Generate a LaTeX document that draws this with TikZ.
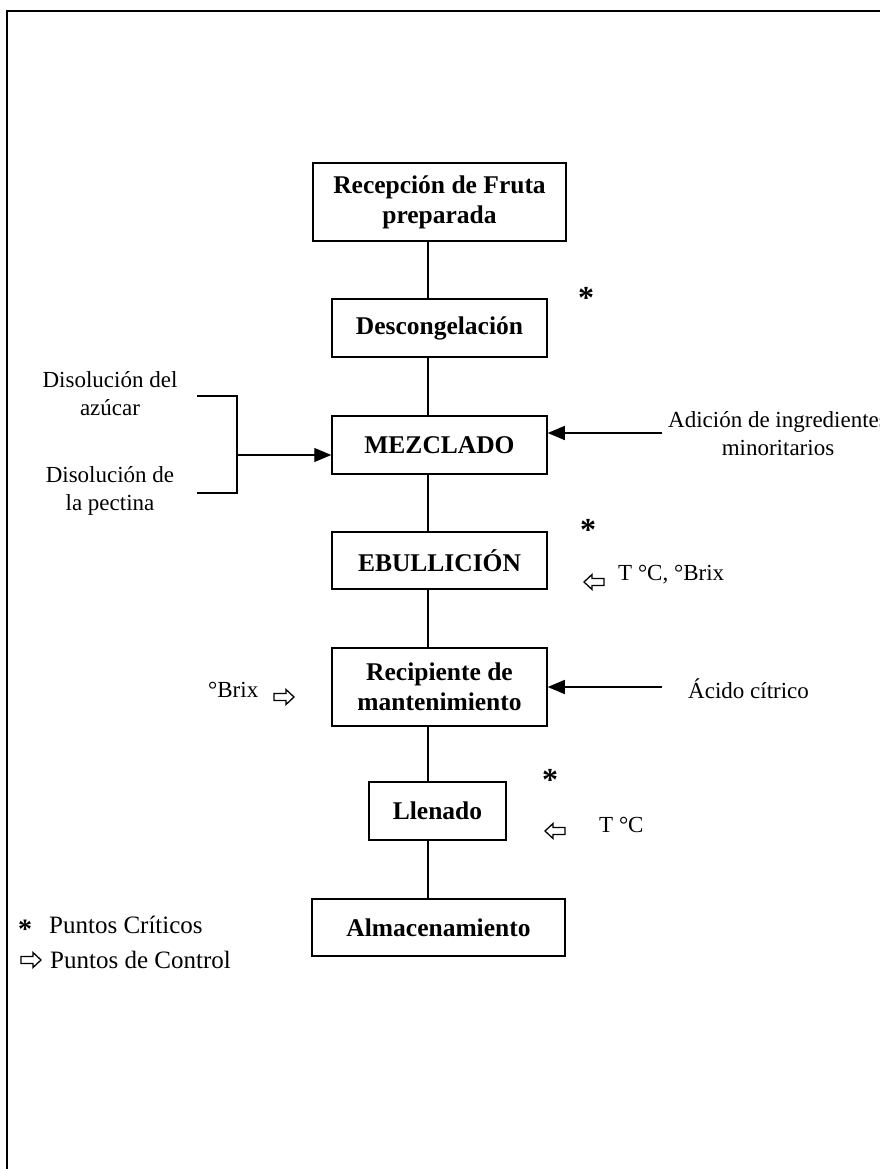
\documentclass[tikz,border=0pt]{standalone}
\usepackage{fontspec}
\setmainfont{Liberation Serif}
\usetikzlibrary{arrows.meta}
\begin{document}
\begin{tikzpicture}[x=1pt,y=-1pt,
  box/.style={draw, line width=1.5pt, font=\fontsize{25.5}{30}\selectfont\bfseries, align=center, inner sep=0pt, minimum height=58pt},
  lbl/.style={font=\fontsize{23}{28}\selectfont, align=center, inner sep=0pt},
  leg/.style={font=\fontsize{25}{30}\selectfont, inner sep=0pt, anchor=west},
  conn/.style={line width=1.3pt},
  feed/.style={line width=1.3pt, -{Triangle[length=17pt,width=14pt]}},
  star/.style={font=\fontsize{32}{32}\selectfont\bfseries, inner sep=0pt},
  ctrl/.style={line width=1.3pt, line join=miter},
  ctrlR/.pic={\draw[ctrl] (-10,-3.5) -- (2,-3.5) -- (2,-7.5) -- (10,0) -- (2,7.5) -- (2,3.5) -- (-10,3.5) -- cycle;},
  ctrlL/.pic={\draw[ctrl] (10,-3.5) -- (-2,-3.5) -- (-2,-7.5) -- (-10,0) -- (-2,7.5) -- (-2,3.5) -- (10,3.5) -- cycle;}
]
\useasboundingbox (0,0) rectangle (880,1169);
\fill[white] (0,0) rectangle (880,1169);
% frame
\draw[line width=1.8pt] (7,1169) -- (7,11) -- (880,11);

% process boxes
\node[box, minimum width=253pt, minimum height=78pt] (rec) at (439.5,202) {Recepción de Fruta\\preparada};
\node[box, minimum width=215pt] (des) at (439.5,328) {Descongelación};
\node[box, minimum width=215pt] (mez) at (439.5,445) {MEZCLADO};
\node[box, minimum width=215pt, minimum height=57pt] (ebu) at (439.5,560.5) {EBULLICIÓN};
\node[box, minimum width=215pt, minimum height=78pt] (reci) at (439.5,687) {Recipiente de\\mantenimiento};
\node[box, minimum width=137pt] (lle) at (437.5,811) {Llenado};
\node[box, minimum width=253pt, minimum height=57pt] (alm) at (438.5,927.5) {Almacenamiento};

% spine connectors
\coordinate (sp) at (428,0);
\draw[conn] (rec.south -| sp) -- (des.north -| sp);
\draw[conn] (des.south -| sp) -- (mez.north -| sp);
\draw[conn] (mez.south -| sp) -- (ebu.north -| sp);
\draw[conn] (ebu.south -| sp) -- (reci.north -| sp);
\draw[conn] (reci.south -| sp) -- (lle.north -| sp);
\draw[conn] (lle.south -| sp) -- (alm.north -| sp);

% left inputs with bracket
\node[lbl] (azu) at (110,394) {Disolución del\\azúcar};
\node[lbl] (pec) at (110,491) {Disolución de\\la pectina};
\coordinate (bt) at (197,396);
\coordinate (bb) at (197,493);
\coordinate (bj) at (237,455);
\draw[conn] (bt) -- (bt -| bj) -- (bb -| bj) -- (bb);
\draw[feed] (bj) -- (bj -| mez.west);

% right inputs
\node[lbl] (adi) at (778,434) {Adición de ingredientes\\minoritarios};
\coordinate (ain) at (662,433);
\draw[feed] (ain) -- (ain -| mez.east);
\node[lbl, anchor=west] (aci) at (688,689) {Ácido cítrico};
\coordinate (acin) at (662,687);
\draw[feed] (acin) -- (acin -| reci.east);

% critical points
\node[star] (s1) at (586,298) {*};
\node[star] (s2) at (588,530) {*};
\node[star] (s3) at (550,780) {*};

% control points
\pic at (594,582) {ctrlL};
\node[lbl, anchor=west] (t1) at (618,575) {T °C, °Brix};
\node[lbl, anchor=west] (bx) at (208,690) {°Brix};
\pic at (284,697) {ctrlR};
\pic at (555,831) {ctrlL};
\node[lbl, anchor=west] (t2) at (599,825) {T °C};

% legend
\node[star, font=\fontsize{28}{28}\selectfont\bfseries] (ls) at (25,929) {*};
\node[leg] (lc) at (49,925) {Puntos Críticos};
\pic at (31,960) {ctrlR};
\node[leg] (lp) at (50,960) {Puntos de Control};
\end{tikzpicture}
\end{document}
